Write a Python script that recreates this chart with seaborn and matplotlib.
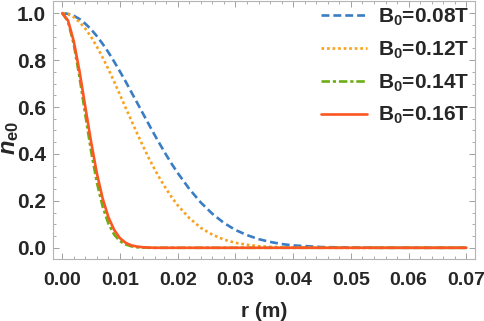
import pandas as pd
import matplotlib
matplotlib.use("Agg")
import matplotlib.pyplot as plt
from matplotlib.ticker import MultipleLocator
import seaborn as sns

# ---------------------------
# Data (radius in m, normalised density n_e0)
# ---------------------------
r_vals = [0.000, 0.001, 0.002, 0.003, 0.004, 0.005, 0.006, 0.007, 0.008, 0.009,
          0.010, 0.011, 0.012, 0.013, 0.014, 0.015, 0.016, 0.017, 0.018, 0.019,
          0.020, 0.022, 0.024, 0.026, 0.028, 0.030, 0.032, 0.034, 0.036, 0.038,
          0.040, 0.045, 0.050, 0.055, 0.060, 0.065, 0.070]

n_b008 = [1.000, 0.997, 0.989, 0.975, 0.955, 0.931, 0.902, 0.869, 0.833, 0.793,
          0.751, 0.708, 0.662, 0.617, 0.571, 0.526, 0.481, 0.438, 0.396, 0.356,
          0.319, 0.251, 0.193, 0.145, 0.106, 0.076, 0.054, 0.037, 0.025, 0.016,
          0.010, 0.003, 0.001, 0.000, 0.000, 0.000, 0.000]

n_b012 = [1.000, 0.996, 0.983, 0.962, 0.934, 0.899, 0.857, 0.811, 0.761, 0.708,
          0.652, 0.596, 0.541, 0.486, 0.433, 0.382, 0.335, 0.291, 0.251, 0.214,
          0.181, 0.127, 0.085, 0.056, 0.035, 0.021, 0.013, 0.007, 0.004, 0.002,
          0.001, 0.000, 0.000, 0.000, 0.000, 0.000, 0.000]

n_b014 = [1.000, 0.965, 0.867, 0.726, 0.566, 0.411, 0.278, 0.175, 0.103, 0.056,
          0.028, 0.014, 0.006, 0.002, 0.001, 0.000, 0.000, 0.000, 0.000, 0.000,
          0.000, 0.000, 0.000, 0.000, 0.000, 0.000, 0.000, 0.000, 0.000, 0.000,
          0.000, 0.000, 0.000, 0.000, 0.000, 0.000, 0.000]

n_b016 = [1.000, 0.969, 0.880, 0.751, 0.600, 0.451, 0.317, 0.210, 0.130, 0.076,
          0.041, 0.021, 0.010, 0.005, 0.002, 0.001, 0.000, 0.000, 0.000, 0.000,
          0.000, 0.000, 0.000, 0.000, 0.000, 0.000, 0.000, 0.000, 0.000, 0.000,
          0.000, 0.000, 0.000, 0.000, 0.000, 0.000, 0.000]

labels = [r"B$_\mathbf{0}$=0.08T", r"B$_\mathbf{0}$=0.12T",
          r"B$_\mathbf{0}$=0.14T", r"B$_\mathbf{0}$=0.16T"]

# ---------------------------
# Long-form table for seaborn
# ---------------------------
frames = []
for lab, vals in zip(labels, [n_b008, n_b012, n_b014, n_b016]):
    frames.append(pd.DataFrame({"r": r_vals, "n": vals, "field": lab}))
df = pd.concat(frames, ignore_index=True)

palette = dict(zip(labels, ["#3B7DC4", "#F9A11B", "#6CAE14", "#FF5522"]))
dashes = dict(zip(labels, [(3.0, 1.5), (1.0, 1.1), (3.2, 1.1, 1.2, 1.1), ""]))

# ---------------------------
# Plot
# ---------------------------
sns.set_style("ticks")
plt.rcParams["font.family"] = ["Liberation Sans", "DejaVu Sans"]
plt.rcParams["font.weight"] = "bold"
plt.rcParams["mathtext.fontset"] = "custom"
plt.rcParams["mathtext.rm"] = "Liberation Sans:bold"
plt.rcParams["mathtext.bf"] = "Liberation Sans:bold"
plt.rcParams["mathtext.it"] = "Liberation Sans:bold:italic"

fig = plt.figure(figsize=(4.84, 3.21), dpi=100)
ax = fig.add_axes([0.1095, 0.193, 0.872, 0.804])

sns.lineplot(data=df, x="r", y="n", hue="field", style="field",
             palette=palette, dashes=dashes, linewidth=1.9, ax=ax)

ax.set_xlim(-0.0016, 0.0715)
ax.set_ylim(-0.048, 1.052)
ax.xaxis.set_major_locator(MultipleLocator(0.01))
ax.xaxis.set_minor_locator(MultipleLocator(0.002))
ax.yaxis.set_major_locator(MultipleLocator(0.2))
ax.yaxis.set_minor_locator(MultipleLocator(0.05))
ax.xaxis.set_major_formatter(matplotlib.ticker.FormatStrFormatter("%.2f"))
ax.yaxis.set_major_formatter(matplotlib.ticker.FormatStrFormatter("%.1f"))

for side in ax.spines.values():
    side.set_color("#b4b4b4")
    side.set_linewidth(0.8)
ax.tick_params(which="both", direction="in", top=True, right=True,
               color="#a0a0a0", labelsize=15)
ax.tick_params(axis="x", pad=9, labelsize=14)
ax.tick_params(axis="y", pad=5)
ax.tick_params(which="major", length=4, width=0.7)
ax.tick_params(which="minor", length=2.2, width=0.6)

ax.set_xlabel("r (m)", fontsize=15, fontweight="bold")
ax.set_ylabel(r"$n_{\mathbf{e0}}$", fontsize=17)
ax.xaxis.set_label_coords(0.5, -0.165)
ax.yaxis.set_label_coords(-0.075, 0.47)

leg = ax.legend(loc="upper right", bbox_to_anchor=(1.005, 1.01),
                frameon=False, fontsize=15, handlelength=2.2,
                labelspacing=0.55, handletextpad=0.5, borderaxespad=0.0)
for t in leg.get_texts():
    t.set_fontweight("bold")

fig.savefig("out.png", dpi=100)
